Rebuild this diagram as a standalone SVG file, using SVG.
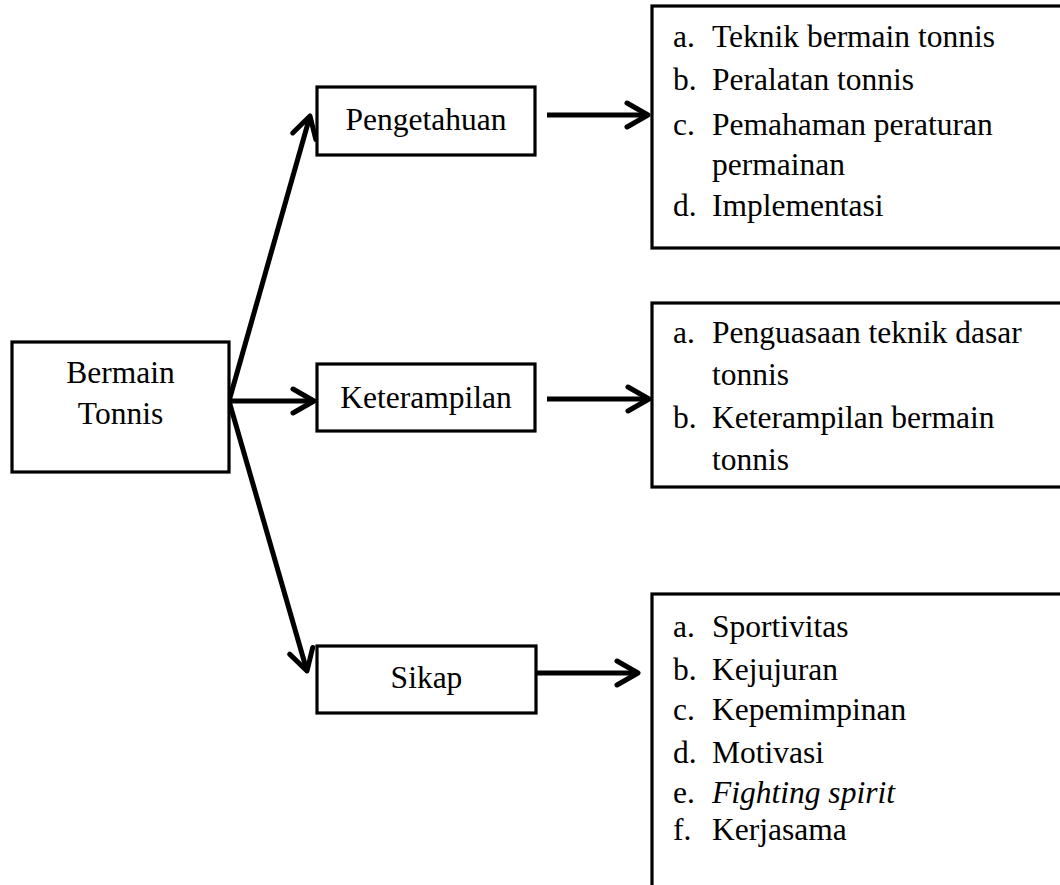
<svg xmlns="http://www.w3.org/2000/svg" width="1060" height="885" viewBox="0 0 1060 885">
<style>
.box{fill:#fff;stroke:#000;stroke-width:3.2}
.t{font-family:"Liberation Serif","Times New Roman",serif;font-size:31.5px;fill:#000}
.c{text-anchor:middle}
.ln{stroke:#000;stroke-width:5;fill:none}
</style>
<defs>
<marker id="arr" markerUnits="userSpaceOnUse" orient="auto" refX="0" refY="0" markerWidth="30" markerHeight="30" viewBox="-25 -15 30 30" overflow="visible">
<path d="M-21,-12 L0,0 L-21,12" fill="none" stroke="#000" stroke-width="5" stroke-linecap="round" stroke-linejoin="round"/>
</marker>
</defs>
<rect width="1060" height="885" fill="#fff"/>
<g id="connectors">
<line class="ln" x1="229" y1="401" x2="310" y2="116" marker-end="url(#arr)"/>
<line class="ln" x1="229" y1="401" x2="314" y2="401" marker-end="url(#arr)"/>
<line class="ln" x1="229" y1="401" x2="307" y2="671" marker-end="url(#arr)"/>
<line class="ln" x1="547" y1="115" x2="648" y2="115" marker-end="url(#arr)"/>
<line class="ln" x1="547" y1="399" x2="649" y2="399" marker-end="url(#arr)"/>
<line class="ln" x1="537" y1="673" x2="638" y2="673" marker-end="url(#arr)"/>
</g>
<g id="bermain">
<rect class="box" x="12" y="342" width="217" height="130"/>
<text class="t c" x="120.5" y="383">Bermain</text>
<text class="t c" x="120.5" y="424">Tonnis</text>
</g>
<g id="pengetahuan">
<rect class="box" x="317" y="87" width="218" height="68"/>
<text class="t c" x="426" y="130">Pengetahuan</text>
</g>
<g id="keterampilan">
<rect class="box" x="317" y="364" width="218" height="67"/>
<text class="t c" x="426" y="408">Keterampilan</text>
</g>
<g id="sikap">
<rect class="box" x="317" y="646" width="219" height="67"/>
<text class="t c" x="426.5" y="688">Sikap</text>
</g>
<g id="list-pengetahuan">
<rect class="box" x="652" y="6" width="420" height="242"/>
<text class="t" x="673" y="47">a.</text><text class="t" x="712" y="47">Teknik bermain tonnis</text>
<text class="t" x="673" y="90">b.</text><text class="t" x="712" y="90">Peralatan tonnis</text>
<text class="t" x="673" y="135">c.</text><text class="t" x="712" y="135">Pemahaman peraturan</text>
<text class="t" x="712" y="175">permainan</text>
<text class="t" x="673" y="216">d.</text><text class="t" x="712" y="216">Implementasi</text>
</g>
<g id="list-keterampilan">
<rect class="box" x="652" y="303" width="420" height="184"/>
<text class="t" x="673" y="343">a.</text><text class="t" x="712" y="343">Penguasaan teknik dasar</text>
<text class="t" x="712" y="385">tonnis</text>
<text class="t" x="673" y="428">b.</text><text class="t" x="712" y="428">Keterampilan bermain</text>
<text class="t" x="712" y="470">tonnis</text>
</g>
<g id="list-sikap">
<rect class="box" x="652" y="594" width="420" height="300"/>
<text class="t" x="673" y="637">a.</text><text class="t" x="712" y="637">Sportivitas</text>
<text class="t" x="673" y="680">b.</text><text class="t" x="712" y="680">Kejujuran</text>
<text class="t" x="673" y="720">c.</text><text class="t" x="712" y="720">Kepemimpinan</text>
<text class="t" x="673" y="763">d.</text><text class="t" x="712" y="763">Motivasi</text>
<text class="t" x="673" y="803">e.</text><text class="t" x="712" y="803" font-style="italic">Fighting spirit</text>
<text class="t" x="673" y="840">f.</text><text class="t" x="712" y="840">Kerjasama</text>
</g>
</svg>
